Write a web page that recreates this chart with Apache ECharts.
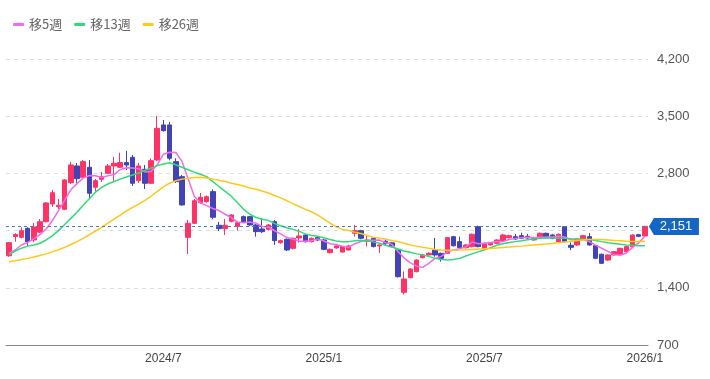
<!DOCTYPE html>
<html><head><meta charset="utf-8">
<script src="https://cdn.jsdelivr.net/npm/echarts@6/dist/echarts.min.js"></script>
<style>html,body{margin:0;padding:0;background:#fff}#c{width:710px;height:379px}</style>
</head><body><div id="c"></div>
<script>
const categories = [
'2024/01/12','2024/01/19','2024/01/26','2024/02/02','2024/02/09','2024/02/16','2024/02/23','2024/03/01','2024/03/08','2024/03/15',
'2024/03/22','2024/03/29','2024/04/05','2024/04/12','2024/04/19','2024/04/26','2024/05/03','2024/05/10','2024/05/17','2024/05/24',
'2024/05/31','2024/06/07','2024/06/14','2024/06/21','2024/06/28','2024/07/05','2024/07/12','2024/07/19','2024/07/26','2024/08/02',
'2024/08/09','2024/08/16','2024/08/23','2024/08/30','2024/09/06','2024/09/13','2024/09/20','2024/09/27','2024/10/04','2024/10/11',
'2024/10/18','2024/10/25','2024/11/01','2024/11/08','2024/11/15','2024/11/22','2024/11/29','2024/12/06','2024/12/13','2024/12/20',
'2024/12/27','2025/01/03','2025/01/10','2025/01/17','2025/01/24','2025/01/31','2025/02/07','2025/02/14','2025/02/21','2025/02/28',
'2025/03/07','2025/03/14','2025/03/21','2025/03/28','2025/04/04','2025/04/11','2025/04/18','2025/04/25','2025/05/02','2025/05/09',
'2025/05/16','2025/05/23','2025/05/30','2025/06/06','2025/06/13','2025/06/20','2025/06/27','2025/07/04','2025/07/11','2025/07/18',
'2025/07/25','2025/08/01','2025/08/08','2025/08/15','2025/08/22','2025/08/29','2025/09/05','2025/09/12','2025/09/19','2025/09/26',
'2025/10/03','2025/10/10','2025/10/17','2025/10/24','2025/10/31','2025/11/07','2025/11/14','2025/11/21','2025/11/28','2025/12/05',
'2025/12/12','2025/12/19','2025/12/26','2026/01/02'];

const tickLabels = ['2024/7','2025/1','2025/7','2026/1'];

const opens = [1792,2027,2018,2128,1985,2081,2209,2426,2393,2361,2687,2891,2752,2875,2630,2728,2802,2891,2875,2932,
2997,2711,2850,2679,2964,3393,3393,2944,2760,2018,2189,2442,2454,2577,2165,2124,2214,2150,2271,2271,
2169,2120,2116,2209,1952,1993,1883,2010,2046,1964,2014,1985,1830,1888,1838,1863,2067,2099,1969,2006,
1912,1969,1950,1863,1345,1524,1597,1769,1802,1863,1822,1822,2026,1965,1891,1904,2148,1883,1924,1945,
1977,2014,2026,2038,2030,1985,2014,2067,2046,1965,2148,1920,1924,1997,2026,1916,1810,1740,1802,1810,
1842,1904,2050,2034];
const closes = [1952,2051,2099,1964,2144,2209,2438,2564,2410,2720,2903,2736,2944,2557,2711,2760,2891,2924,2932,2903,
2679,2891,2679,2956,3352,3323,2985,2699,2414,2189,2466,2508,2515,2263,2124,2165,2291,2197,2209,2169,
2087,2087,2169,1977,1977,1863,2006,2034,1964,2006,1985,1871,1871,1912,1904,1912,2099,2006,1985,1904,
1924,1940,1910,1536,1508,1630,1740,1802,1822,1802,1761,2014,1915,1891,1924,2055,1904,1945,1945,1985,
2046,2038,1997,2006,2010,2014,2067,2014,2006,2055,1965,1895,1997,2038,1924,1761,1700,1802,1842,1883,
1904,2046,2030,2151];
const lows = [1780,1964,2005,1912,1961,2070,2200,2389,2365,2350,2670,2683,2740,2499,2573,2695,2790,2708,2867,2842,
2646,2683,2609,2670,2950,3311,2960,2683,2405,1814,2180,2426,2440,2239,2095,2046,2200,2099,2195,2155,
2026,2070,2100,1924,1940,1850,1870,1952,1955,1955,1975,1860,1820,1880,1830,1855,2026,1995,1904,1895,
1826,1920,1895,1525,1320,1515,1590,1760,1795,1780,1720,1815,1905,1880,1880,1895,1895,1875,1915,1935,
1970,2005,1985,1995,2000,1975,2005,2005,1995,1955,1955,1860,1915,1985,1915,1750,1690,1730,1795,1800,
1835,1895,2020,2025];
const highs = [1960,2067,2140,2140,2193,2242,2450,2597,2487,2730,2940,2928,2964,2964,2732,2818,2915,3001,3054,3075,
3026,2928,2903,2985,3503,3454,3430,2985,2781,2230,2487,2560,2530,2606,2206,2242,2300,2210,2285,2280,
2180,2255,2180,2230,1990,2005,2015,2120,2055,2015,2025,1995,1880,1920,1912,1920,2169,2110,2040,2015,
1930,2000,1960,1870,1600,1640,1750,1815,1835,2010,1830,2020,2035,2026,1935,2065,2160,1955,1955,1995,
2060,2050,2060,2075,2060,2025,2075,2075,2055,2065,2155,1955,2005,2045,2070,1925,1820,1810,1850,1890,
1915,2055,2060,2160];

const ma5 = [1822,1863,1924,1955,2000,2050,2120,2220,2345,2470,2600,2675,2742,2775,2772,2750,2770,2785,2848,2870,
2865,2858,2818,2822,2905,3035,3058,3055,2950,2735,2520,2440,2405,2370,2345,2300,2260,2205,2197,2206,
2191,2150,2144,2098,2059,2015,1998,1971,1969,1975,1999,1972,1939,1929,1909,1894,1940,1967,1981,1981,
1984,1952,1933,1843,1764,1705,1665,1650,1700,1759,1785,1840,1863,1877,1901,1960,1938,1944,1955,1967,
1965,1992,2002,2014,2019,2013,2019,2022,2022,2031,2021,1987,1984,1990,1964,1923,1884,1845,1806,1798,
1826,1895,1950,2030];
const ma13 = [1805,1850,1885,1910,1925,1945,1985,2035,2100,2175,2250,2325,2410,2490,2570,2630,2670,2700,2730,2755,
2780,2805,2835,2865,2895,2915,2930,2905,2875,2845,2815,2790,2760,2700,2640,2580,2520,2440,2360,2300,
2260,2240,2225,2185,2160,2135,2115,2090,2060,2040,2030,2010,1990,1972,1965,1965,1975,1982,1972,1962,
1945,1920,1900,1875,1850,1835,1815,1800,1785,1760,1745,1740,1745,1760,1790,1815,1840,1865,1890,1920,
1940,1955,1965,1975,1988,1998,2005,2008,2008,2006,2005,2000,1998,1995,1990,1980,1965,1952,1942,1932,
1925,1920,1916,1915];
const ma26 = [1720,1732,1745,1760,1778,1795,1815,1840,1865,1895,1930,1965,2005,2050,2095,2140,2190,2240,2290,2340,
2385,2425,2470,2520,2580,2635,2680,2710,2730,2742,2750,2752,2745,2730,2715,2700,2680,2665,2645,2620,
2605,2585,2560,2530,2500,2465,2430,2395,2360,2330,2290,2240,2190,2145,2115,2100,2080,2065,2040,2020,
2006,1995,1980,1965,1945,1925,1910,1895,1883,1870,1863,1860,1860,1862,1865,1870,1875,1878,1882,1888,
1893,1898,1904,1910,1918,1925,1930,1935,1942,1950,1960,1970,1978,1985,1990,1992,1990,1985,1980,1975,
1970,1968,1968,1970];

const lastPrice = 2151;
const seriesNames = ['移5週','移13週','移26週'];
const lineColors = ['#f26cf2','#2fdc78','#ffc81a'];
const upColor = '#ff3366', downColor = '#4343b8';

const candleData = opens.map((o, i) => [o, closes[i], lows[i], highs[i]]);
const maData = [ma5, ma13, ma26];

function monthLabel(d){ const p = d.split('/'); return p[0] + '/' + parseInt(p[1],10); }
function isTick(i){
  const d = categories[i]; const day = parseInt(d.split('/')[2],10);
  return day <= 7 && tickLabels.indexOf(monthLabel(d)) >= 0;
}

const chart = echarts.init(document.getElementById('c'), null, {renderer:'canvas'});
chart.setOption({
  animation:false,
  backgroundColor:'#fff',
  legend:{
    data: seriesNames, left:8, top:13, icon:'roundRect', itemWidth:11, itemHeight:3, itemGap:12,
    textStyle:{color:'#666', fontSize:13, fontFamily:'"Noto Sans CJK JP", sans-serif'}
  },
  grid:{left:6, right:62, top:59, bottom:34},
  xAxis:{
    type:'category', data:categories, boundaryGap:true,
    axisLine:{lineStyle:{color:'#888', width:1}},
    axisTick:{show:false},
    axisLabel:{
      interval:(i)=>isTick(i), formatter:(v)=>monthLabel(v),
      color:'#444', fontSize:12, margin:8, fontFamily:'"Liberation Sans", Arial, sans-serif'
    },
    splitLine:{show:false}
  },
  yAxis:{
    type:'value', position:'right', min:700, max:4200, interval:700, scale:false,
    axisLine:{show:false}, axisTick:{show:false},
    axisLabel:{
      color:'#555', fontSize:13, margin:9, fontFamily:'"Liberation Sans", Arial, sans-serif',
      formatter:(v)=> v===2100 ? '' : v.toLocaleString('en-US')
    },
    splitLine:{lineStyle:{color:'#dedede', type:[4,4]}}
  },
  series:[
    {
      type:'candlestick', name:'株価', data:candleData, barWidth:5,
      itemStyle:{color:upColor, color0:downColor, borderColor:upColor, borderColor0:downColor, borderWidth:1},
      markLine:{
        silent:true, symbol:'none', label:{show:false},
        lineStyle:{color:'#3f7fd3', type:[3,3], width:1},
        data:[{yAxis:lastPrice}]
      },
      markPoint:{
        silent:true,
        data:[{coord:[categories.length-1, lastPrice], value:lastPrice}],
        symbol:'path://M0,8.5 L5,0 L50,0 L50,17 L5,17 Z',
        symbolSize:[50,17], symbolKeepAspect:false, symbolOffset:[29,0],
        itemStyle:{color:'#1466c6'},
        label:{show:true, color:'#fff', fontSize:13, offset:[2,0],
          fontFamily:'"Liberation Sans", Arial, sans-serif',
          formatter:(p)=>p.value.toLocaleString('en-US')}
      }
    },
    ...seriesNames.map((n, k) => ({
      type:'line', name:n, data:maData[k], showSymbol:false, symbol:'none',
      lineStyle:{color:lineColors[k], width:1.5}, itemStyle:{color:lineColors[k]}, z:3
    }))
  ]
});
</script></body></html>
